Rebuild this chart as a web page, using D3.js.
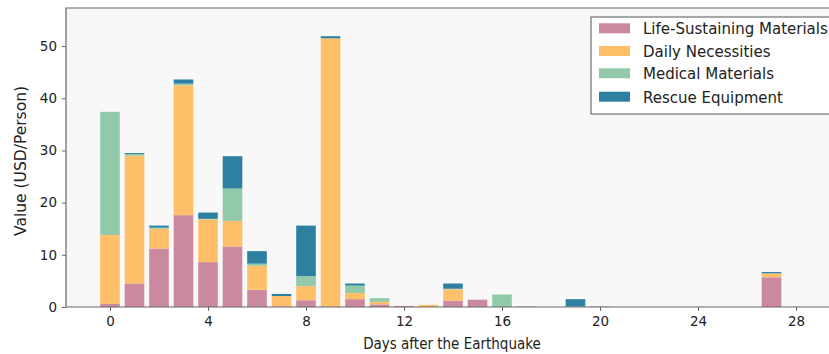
<!DOCTYPE html>
<html>
<head>
<meta charset="utf-8">
<script src="https://cdn.jsdelivr.net/npm/d3@7"></script>
<style>
  body { margin: 0; background: #fff; }
  svg { display: block; font-family: "DejaVu Sans", sans-serif; }
</style>
</head>
<body>
<div id="chart"></div>
<script>
// data (day index -> USD/person)
const days = d3.range(0, 28);
const lifeSustaining = [0.6, 4.5, 11.2, 17.6, 8.6, 11.6, 3.3, 0.1, 1.3, 0.1, 1.5, 0.5, 0.2, 0, 1.2, 1.4, 0, 0.1, 0, 0.1, 0.1, 0, 0, 0, 0, 0, 0, 5.7];
const dailyNecessities = [13.2, 24.5, 3.8, 24.9, 8.2, 4.9, 4.6, 2.0, 2.7, 51.4, 1.2, 0.5, 0, 0.4, 2.2, 0, 0, 0, 0, 0, 0, 0, 0, 0, 0, 0, 0, 0.75];
const medicalMaterials = [23.6, 0.3, 0.2, 0.3, 0.1, 6.2, 0.4, 0, 1.9, 0, 1.4, 0.7, 0, 0, 0.1, 0, 2.4, 0, 0, 0, 0, 0, 0, 0, 0, 0, 0, 0];
const rescueEquipment = [0, 0.2, 0.4, 0.8, 1.2, 6.2, 2.4, 0.4, 9.7, 0.4, 0.4, 0, 0, 0, 1.0, 0, 0, 0, 0, 1.4, 0, 0, 0, 0, 0, 0, 0, 0.25];
const seriesNames = ["Life-Sustaining Materials", "Daily Necessities", "Medical Materials", "Rescue Equipment"];
const colors = ["#cb89a0", "#ffbf69", "#92c9a8", "#2e80a0"];
const xTicks = [0, 4, 8, 12, 16, 20, 24, 28];
const yTicks = [0, 10, 20, 30, 40, 50];

const width = 829, height = 354;
const plot = {left: 66, top: 8, right: 835, bottom: 307};

const svg = d3.select("#chart").append("svg")
  .attr("width", width).attr("height", height);

// x: 0 -> 110px, 28 -> 796px
const xScale = d3.scaleLinear().domain([0, 28]).range([110, 796]);
const yScale = d3.scaleLinear().domain([0, 57.3]).range([plot.bottom, plot.top]);

// plot background
svg.append("rect")
  .attr("x", plot.left).attr("y", plot.top)
  .attr("width", plot.right - plot.left).attr("height", plot.bottom - plot.top)
  .attr("fill", "#f8f8f8");

const table = days.map((d, i) => ({
  day: d,
  life: lifeSustaining[i],
  daily: dailyNecessities[i],
  medical: medicalMaterials[i],
  rescue: rescueEquipment[i]
}));
const keys = ["life", "daily", "medical", "rescue"];
const stacked = d3.stack().keys(keys)(table);

const barW = xScale(0.8) - xScale(0);

svg.append("g")
  .selectAll("g")
  .data(stacked)
  .join("g")
    .attr("fill", (d, i) => colors[i])
  .selectAll("rect")
  .data(d => d)
  .join("rect")
    .attr("x", d => xScale(d.data.day) - barW / 2)
    .attr("y", d => yScale(d[1]))
    .attr("width", barW)
    .attr("height", d => yScale(d[0]) - yScale(d[1]));

// spines
svg.append("path")
  .attr("d", `M${plot.right},${plot.top}H${plot.left}V${plot.bottom}H${plot.right}`)
  .attr("fill", "none").attr("stroke", "#666").attr("stroke-width", 1.2);

const xAxis = svg.append("g")
  .attr("transform", `translate(0,${plot.bottom})`)
  .call(d3.axisBottom(xScale).tickValues(xTicks).tickSize(4).tickPadding(5));
const yAxis = svg.append("g")
  .attr("transform", `translate(${plot.left},0)`)
  .call(d3.axisLeft(yScale).tickValues(yTicks).tickSize(4).tickPadding(5));

[xAxis, yAxis].forEach(a => {
  a.select(".domain").remove();
  a.selectAll("line").attr("stroke", "#666");
  a.selectAll("text").attr("font-size", 13.5).attr("fill", "#222")
    .attr("font-family", "DejaVu Sans, sans-serif");
});

// the source picture is a bit stretched vertically
svg.append("text")
  .text("Days after the Earthquake")
  .attr("transform", "translate(452,349) scale(1,1.15)")
  .attr("text-anchor", "middle")
  .attr("font-size", 13.5).attr("fill", "#222");

svg.append("text")
  .text("Value (USD/Person)")
  .attr("transform", "translate(26,161) rotate(-90)")
  .attr("text-anchor", "middle")
  .attr("font-size", 15.5).attr("fill", "#222");

// legend
const legend = svg.append("g").attr("transform", "translate(591,17)");
legend.append("rect")
  .attr("width", 250).attr("height", 97)
  .attr("fill", "#fff").attr("stroke", "#555").attr("stroke-width", 1);
seriesNames.forEach((name, i) => {
  const y = [28.3, 51, 73.3, 96.7][i] - 17;
  legend.append("rect")
    .attr("x", 8).attr("y", y - 5).attr("width", 31).attr("height", 10)
    .attr("fill", colors[i]);
  legend.append("text")
    .text(name)
    .attr("x", 52).attr("y", y + 6)
    .attr("font-size", 15).attr("fill", "#222");
});
</script>
</body>
</html>
